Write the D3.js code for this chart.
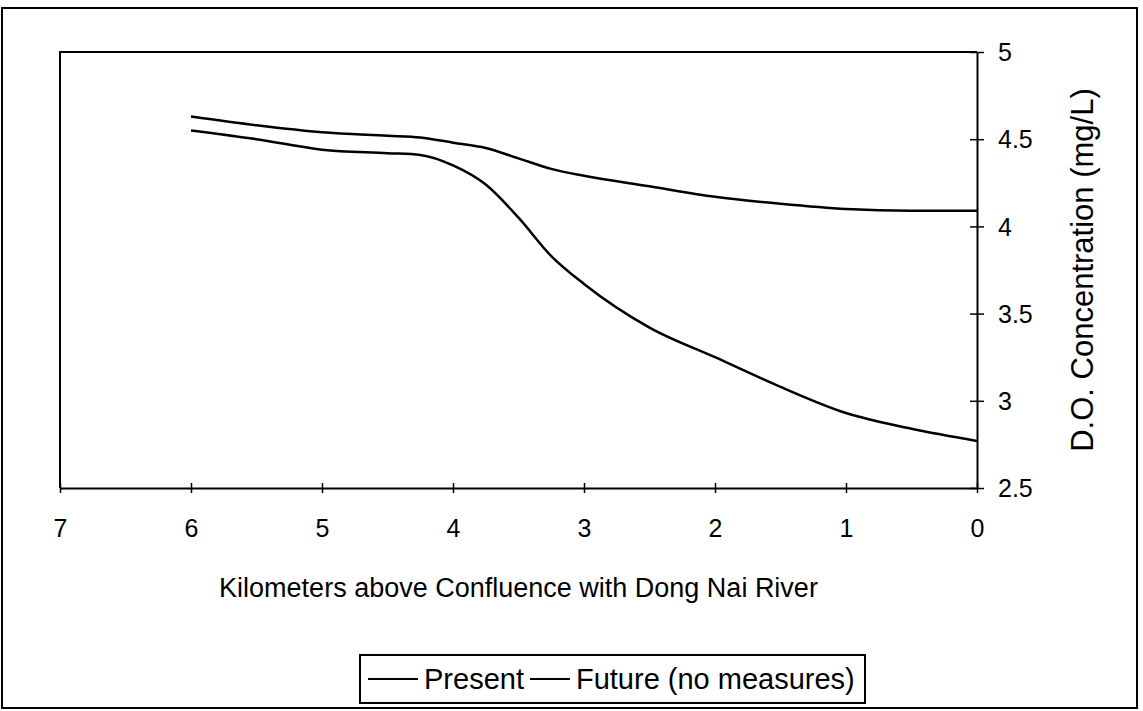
<!DOCTYPE html>
<meta charset="UTF-8">
<style>
body { margin: 0; background: #fff; }
svg { display: block; }
text { font-family: "Liberation Sans", Arial, sans-serif; fill: #000; }
.frame { fill: none; stroke: #000; stroke-width: 2px; }
.curve { fill: none; stroke: #000; stroke-width: 2.5px; }
</style>
<body>
<script src="https://d3js.org/d3.v7.min.js"></script>
<script>
// distance above the confluence (km)
var km = [6, 5.5, 5, 4.5, 4.25, 4, 3.75, 3.5, 3.25, 3, 2.5, 2, 1.5, 1, 0.5, 0];
// D.O. concentration (mg/L)
var present = [4.63, 4.58, 4.54, 4.52, 4.51, 4.48, 4.45, 4.39, 4.33, 4.29, 4.23, 4.17, 4.13, 4.10, 4.09, 4.09];
var future  = [4.55, 4.50, 4.44, 4.42, 4.41, 4.35, 4.24, 4.05, 3.83, 3.67, 3.42, 3.25, 3.08, 2.93, 2.84, 2.77];
var xTicks = [7, 6, 5, 4, 3, 2, 1, 0];
var yTicks = [2.5, 3, 3.5, 4, 4.5, 5];
var seriesNames = ["Present", "Future (no measures)"];

var W = 1143, H = 711;
var plot = {left: 60, right: 977, top: 52, bottom: 488};

var svg = d3.select("body").append("svg")
    .attr("width", W)
    .attr("height", H);

// outer border of the whole chart
svg.append("rect").attr("class", "frame")
    .attr("x", 2).attr("y", 8).attr("width", 1135).attr("height", 700);

var x = d3.scaleLinear().domain([7, 0]).range([plot.left, plot.right]);
var y = d3.scaleLinear().domain([2.5, 5]).range([plot.bottom, plot.top]);

// plot area frame (top and left)
svg.append("path").attr("class", "frame")
    .attr("d", "M" + plot.left + "," + plot.bottom + "V" + plot.top + "H" + plot.right);

// bottom axis, ticks crossing the line
var xAxis = svg.append("g")
    .attr("transform", "translate(0," + plot.bottom + ")")
    .call(d3.axisBottom(x).tickValues(xTicks).tickFormat(d3.format("d")).tickSizeOuter(0).tickPadding(0));
xAxis.select(".domain").attr("stroke-width", 2);
xAxis.selectAll(".tick line").attr("y1", -5).attr("y2", 5).attr("stroke-width", 1.5);
xAxis.selectAll(".tick text").attr("y", 49).attr("dy", null)
    .style("font-size", "25px");

// right axis
var yAxis = svg.append("g")
    .attr("transform", "translate(" + plot.right + ",0)")
    .call(d3.axisRight(y).tickValues(yTicks).tickFormat(d3.format("")).tickSizeOuter(0));
yAxis.select(".domain").attr("stroke-width", 2);
yAxis.selectAll(".tick line").attr("x1", -7).attr("x2", 7).attr("stroke-width", 1.5);
yAxis.selectAll(".tick text").attr("x", 21).attr("dy", "0.35em")
    .style("font-size", "25px");

// axis titles
svg.append("text")
    .attr("x", (plot.left + plot.right) / 2)
    .attr("y", 597)
    .attr("text-anchor", "middle")
    .style("font-size", "27px")
    .text("Kilometers above Confluence with Dong Nai River");

svg.append("text")
    .attr("transform", "translate(1093," + (plot.top + plot.bottom) / 2 + ") rotate(-90)")
    .attr("text-anchor", "middle")
    .style("font-size", "31px")
    .text("D.O. Concentration (mg/L)");

// lines
var line = d3.line()
    .x(function(d) { return x(d[0]); })
    .y(function(d) { return y(d[1]); })
    .curve(d3.curveMonotoneX);

[present, future].forEach(function(vals) {
  svg.append("path").attr("class", "curve")
      .attr("d", line(d3.zip(km, vals)));
});

// legend
var lg = svg.append("g");
lg.append("rect").attr("class", "frame")
    .attr("x", 360).attr("y", 655).attr("width", 505).attr("height", 48)
    .attr("stroke-width", 1.5);
var lx = 368;
seriesNames.forEach(function(name, i) {
  var len = i == 0 ? 50 : 40;
  lg.append("line")
      .attr("x1", lx).attr("x2", lx + len)
      .attr("y1", 679).attr("y2", 679)
      .attr("stroke", "#000").attr("stroke-width", 2);
  var t = lg.append("text")
      .attr("x", lx + len + 6).attr("y", 689)
      .style("font-size", "29px")
      .text(name);
  lx += len + 6 + t.node().getComputedTextLength() + 6;
});
</script>
</body>
